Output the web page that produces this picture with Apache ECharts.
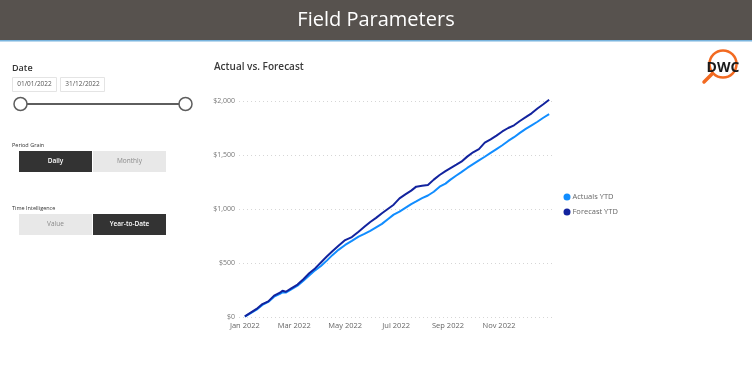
<!DOCTYPE html>
<html>
<head>
<meta charset="utf-8">
<script src="https://cdn.jsdelivr.net/npm/echarts@6/dist/echarts.min.js"></script>
<style>
html,body{margin:0;padding:0;background:#fff;}
#c{width:752px;height:369px;}
</style>
</head>
<body>
<div id="c"></div>
<script>
// ---- data ----
const dates = ['2022-01-01','2022-01-08','2022-01-15','2022-01-22','2022-01-29','2022-02-05','2022-02-12','2022-02-15','2022-02-19','2022-02-26',
  '2022-03-05','2022-03-12','2022-03-19','2022-03-26','2022-04-02','2022-04-09','2022-04-16','2022-04-23','2022-05-01','2022-05-09',
  '2022-05-17','2022-05-24','2022-05-31','2022-06-07','2022-06-14','2022-06-21','2022-06-28','2022-07-05','2022-07-12','2022-07-19',
  '2022-07-25','2022-08-01','2022-08-08','2022-08-15','2022-08-22','2022-08-29','2022-09-04','2022-09-11','2022-09-17','2022-09-24',
  '2022-10-01','2022-10-08','2022-10-15','2022-10-22','2022-10-29','2022-11-05','2022-11-12','2022-11-19','2022-11-26','2022-12-03',
  '2022-12-10','2022-12-17','2022-12-24','2022-12-31'];
const actualsYTD = [4,35,68,112,140,188,215,228,226,258,
  290,335,385,432,472,522,575,622,667,705,
  744,770,798,830,862,905,948,975,1010,1045,
  1070,1100,1125,1160,1207,1235,1272,1310,1342,1380,
  1415,1450,1484,1520,1555,1590,1630,1665,1705,1742,
  1775,1808,1845,1878];
const forecastYTD = [5,40,75,120,145,198,225,243,234,268,
  300,350,405,450,505,560,612,660,712,740,
  790,835,880,918,960,1000,1040,1099,1135,1170,
  1207,1215,1222,1272,1315,1350,1378,1410,1438,1485,
  1525,1555,1614,1645,1680,1718,1750,1775,1815,1850,
  1886,1930,1970,2012];
const seriesNames = ['Actuals YTD','Forecast YTD'];
const xTickDates = ['2022-01-01','2022-03-01','2022-05-01','2022-07-01','2022-09-01','2022-11-01'];
const yTicks = [0,500,1000,1500,2000];
const monthNames = ['Jan','Feb','Mar','Apr','May','Jun','Jul','Aug','Sep','Oct','Nov','Dec'];

const FONT = '"Open Sans", "Noto Sans", sans-serif';
const ts = s => new Date(s + 'T00:00:00Z').getTime();

const chart = echarts.init(document.getElementById('c'), null, {renderer:'canvas'});

function txt(x, y, text, size, fill, weight, align){
  return {type:'text', x:x, y:y, silent:true, style:{text:text, fill:fill, font:(weight||'normal')+' '+size+'px '+FONT, align:align||'left', verticalAlign:'middle'}};
}
function rect(x, y, w, h, fill, stroke){
  return {type:'rect', shape:{x:x, y:y, width:w, height:h}, silent:true, style:{fill:fill, stroke:stroke||null, lineWidth:1}};
}

const graphics = [
  // header
  rect(0, 0, 752, 40, '#57524e'),
  rect(0, 40, 752, 1.5, '#79b4de'),
  txt(376, 20, 'Field Parameters', 20, '#ffffff', 'normal', 'center'),
  // chart title
  txt(214, 67, 'Actual vs. Forecast', 10, '#3a3a3a', '600'),
  // date slicer
  txt(12, 68, 'Date', 9, '#333333', '600'),
  rect(12.5, 77.5, 44, 14, '#ffffff', '#e4e4e4'),
  txt(34.5, 84.5, '01/01/2022', 6.5, '#555555', 'normal', 'center'),
  rect(60.5, 77.5, 44, 14, '#ffffff', '#e4e4e4'),
  txt(82.5, 84.5, '31/12/2022', 6.5, '#555555', 'normal', 'center'),
  {type:'line', silent:true, shape:{x1:20, y1:104, x2:185, y2:104}, style:{stroke:'#5e5e5e', lineWidth:2}},
  {type:'circle', silent:true, shape:{cx:20.5, cy:104, r:6.5}, style:{fill:'#ffffff', stroke:'#5e5e5e', lineWidth:1.5}},
  {type:'circle', silent:true, shape:{cx:185.5, cy:104, r:6.5}, style:{fill:'#ffffff', stroke:'#5e5e5e', lineWidth:1.5}},
  // period grain
  txt(12, 145, 'Period Grain', 5.5, '#333333'),
  rect(19, 151, 73, 21, '#333333'),
  txt(55.5, 161.5, 'Daily', 6.5, '#ffffff', '600', 'center'),
  rect(93, 151, 73, 21, '#e8e8e8'),
  txt(129.5, 161.5, 'Monthly', 6.5, '#8a8a8a', 'normal', 'center'),
  // time intelligence
  txt(12, 208, 'Time Intelligence', 5.5, '#333333'),
  rect(19, 214, 73, 21, '#e8e8e8'),
  txt(55.5, 224.5, 'Value', 6.5, '#8a8a8a', 'normal', 'center'),
  rect(93, 214, 73, 21, '#333333'),
  txt(129.5, 224.5, 'Year-to-Date', 6.5, '#ffffff', '600', 'center'),
  // DWC logo
  {type:'circle', silent:true, shape:{cx:723, cy:64, r:13.5}, style:{fill:null, stroke:'#f26a21', lineWidth:2.5}},
  {type:'line', silent:true, shape:{x1:712, y1:74, x2:704, y2:82}, style:{stroke:'#f26a21', lineWidth:3.5, lineCap:'round'}},
  txt(723, 68, 'DWC', 14, '#1a1a1a', 'bold', 'center')
];

chart.setOption({
  animation:false,
  backgroundColor:'#ffffff',
  textStyle:{fontFamily:FONT},
  graphic: graphics,
  grid:{left:239, right:197, top:101, bottom:52, containLabel:false},
  legend:{
    orient:'vertical', left:563.5, top:193, padding:0, itemGap:7, itemWidth:7, itemHeight:7,
    icon:'circle', data:seriesNames,
    textStyle:{fontSize:7.5, color:'#666666', fontFamily:FONT, padding:[0,0,0,-3]}
  },
  xAxis:{
    type:'value',
    min: ts('2021-12-25'), max: ts('2023-01-07'),
    axisLine:{show:false}, axisTick:{show:false}, splitLine:{show:false},
    axisLabel:{
      customValues: xTickDates.map(ts),
      margin:5, fontSize:7.5, color:'#666666', fontFamily:FONT,
      formatter: v => { const d = new Date(v); return monthNames[d.getUTCMonth()] + ' ' + d.getUTCFullYear(); }
    }
  },
  yAxis:{
    type:'value', min:yTicks[0], max:yTicks[yTicks.length-1], interval:500,
    axisLine:{show:false}, axisTick:{show:false},
    splitLine:{show:true, lineStyle:{type:[1,3], color:'#d6d6d6', width:1}},
    axisLabel:{margin:4, fontSize:7, color:'#777777', fontFamily:FONT,
      formatter: v => '$' + v.toLocaleString('en-US')}
  },
  series:[
    {name:seriesNames[0], type:'line', symbol:'none', clip:false, color:'#118DFF',
     lineStyle:{width:2, color:'#118DFF'}, data: dates.map((d,i)=>[ts(d), actualsYTD[i]])},
    {name:seriesNames[1], type:'line', symbol:'none', clip:false, color:'#12239E',
     lineStyle:{width:2, color:'#12239E'}, data: dates.map((d,i)=>[ts(d), forecastYTD[i]])}
  ]
});
</script>
</body>
</html>
